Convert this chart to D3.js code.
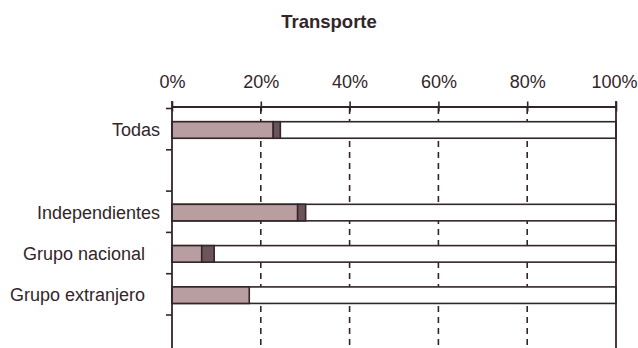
<!DOCTYPE html>
<html><head><meta charset="utf-8">
<script src="https://cdn.jsdelivr.net/npm/d3@7"></script>
<style>body{margin:0;background:#fff}svg{display:block}</style>
</head><body>
<script>
const title = "Transporte";
const categories = ["Todas", "", "Independientes", "Grupo nacional", "Grupo extranjero"];
const series1 = [22.8, null, 28.3, 6.7, 17.4];
const series2 = [1.6, null, 1.8, 2.8, 0];
const tickValues = [0, 20, 40, 60, 80, 100];

const W = 638, H = 348;
const ink = "#33252a", fill1 = "#b99ea1", fill2 = "#6c5559";
const FF = "Arial, 'Liberation Sans', sans-serif";
const svg = d3.select("body").append("svg").attr("width", W).attr("height", H)
  .style("font-family", FF);

const x = d3.scaleLinear().domain([0, 100]).range([172, 616]);
const y = d3.scaleBand().domain(categories.map((c, i) => i)).range([108.5, 315]).padding(0);
const bw = y.bandwidth();

svg.append("text").attr("x", 329).attr("y", 28).attr("text-anchor", "middle")
  .attr("font-weight", "bold").attr("font-size", 18.5).attr("fill", ink).text(title);

// dashed gridlines
svg.append("g").selectAll("line").data(tickValues.slice(1, -1)).join("line")
  .attr("x1", d => x(d)).attr("x2", d => x(d)).attr("y1", 108).attr("y2", H)
  .attr("stroke", ink).attr("stroke-width", 1.6).attr("stroke-dasharray", "6,5");

// bars
const data = categories.map((c, i) => ({i, c, a: series1[i], b: series2[i]})).filter(d => d.a !== null);
const g = svg.append("g");
const by = d => y(d.i) + bw * 0.32, bh = bw * 0.4;
g.selectAll("rect.bg").data(data).join("rect").attr("class", "bg")
  .attr("x", x(0)).attr("width", x(100) - x(0)).attr("y", by).attr("height", bh)
  .attr("fill", "#fff").attr("stroke", ink).attr("stroke-width", 1.6);
g.selectAll("rect.s1").data(data).join("rect").attr("class", "s1")
  .attr("x", x(0)).attr("width", d => x(d.a) - x(0)).attr("y", by).attr("height", bh)
  .attr("fill", fill1).attr("stroke", ink).attr("stroke-width", 1.6);
g.selectAll("rect.s2").data(data.filter(d => d.b > 0)).join("rect").attr("class", "s2")
  .attr("x", d => x(d.a)).attr("width", d => x(d.a + d.b) - x(d.a)).attr("y", by).attr("height", bh)
  .attr("fill", fill2).attr("stroke", ink).attr("stroke-width", 1.6);

// top axis
const ax = d3.axisTop(x).tickValues(tickValues).tickFormat(d => d + "%").tickSize(0).tickPadding(0);
const axg = svg.append("g").attr("transform", "translate(0,106.5)").call(ax);
axg.select(".domain").attr("stroke", ink).attr("stroke-width", 1.8);
axg.selectAll("text").attr("y", -18.5).attr("font-size", 18).attr("fill", ink)
  .attr("font-family", FF);
// keep the last label inside the window
axg.selectAll(".tick").filter(d => d === 100).select("text")
  .attr("text-anchor", "end").attr("x", W - 1 - x(100));
axg.selectAll(".tick line").attr("y1", -5).attr("y2", 5).attr("stroke", ink).attr("stroke-width", 1.6);

// left axis
const yg = svg.append("g").attr("transform", `translate(${x(0)},0)`);
yg.append("line").attr("x1", 0).attr("x2", 0).attr("y1", 101).attr("y2", H).attr("stroke", ink).attr("stroke-width", 1.8);
const bounds = categories.map((c, i) => y(i)).concat([y(categories.length - 1) + bw]);
yg.selectAll("line.t").data(bounds).join("line").attr("class", "t")
  .attr("x1", -6).attr("x2", 0).attr("y1", d => d).attr("y2", d => d)
  .attr("stroke", ink).attr("stroke-width", 1.6);
yg.selectAll("text").data(data).join("text")
  .attr("x", d => d.c.startsWith("Grupo") ? -27 : -12)
  .attr("y", d => by(d) + bh / 2).attr("dy", "0.35em")
  .attr("text-anchor", "end").attr("font-size", 18).attr("fill", ink).text(d => d.c);

// right frame
svg.append("line").attr("x1", x(100)).attr("x2", x(100)).attr("y1", 101).attr("y2", H)
  .attr("stroke", ink).attr("stroke-width", 1.8);
</script>
</body></html>
